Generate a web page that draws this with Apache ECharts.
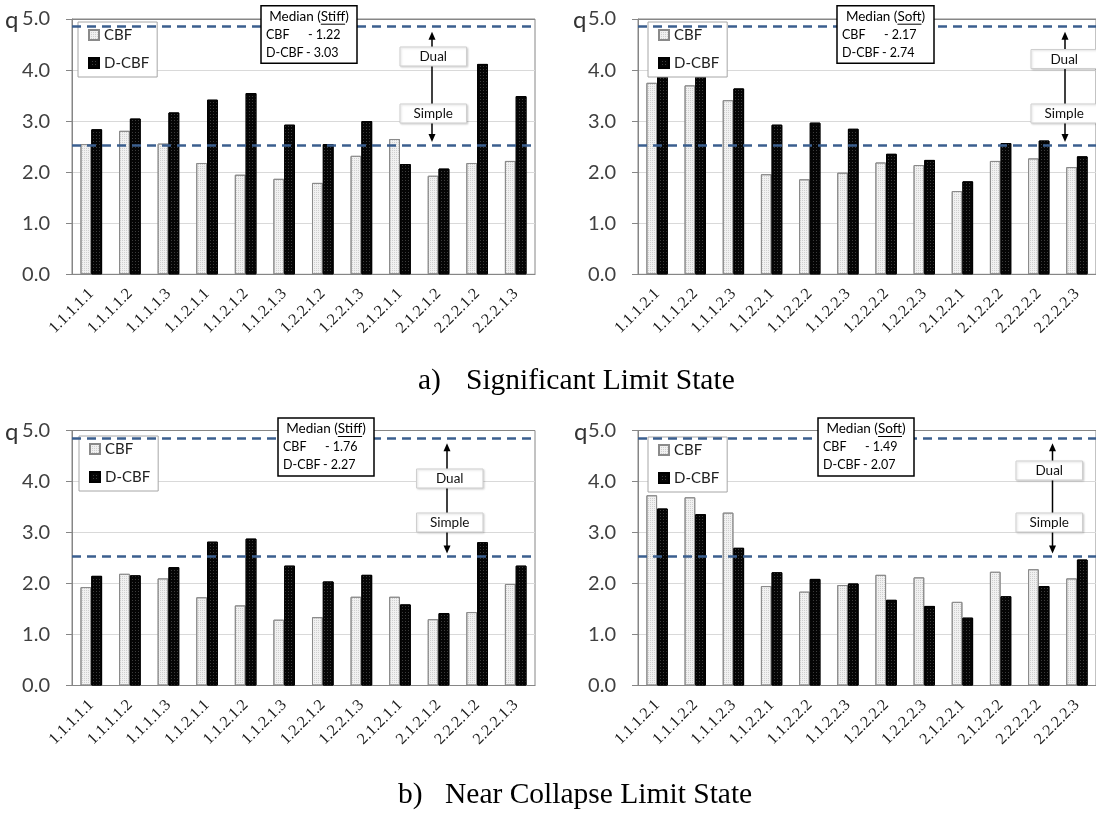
<!DOCTYPE html>
<html><head><meta charset="utf-8">
<script src="https://cdn.jsdelivr.net/npm/echarts@6/dist/echarts.min.js"></script>
<style>html,body{margin:0;padding:0;background:#fff}#c{width:1096px;height:813px}</style>
</head><body><div id="c"></div><script>
// ---------- data ----------
const catsStiff = ['1.1.1.1.1','1.1.1.1.2','1.1.1.1.3','1.1.2.1.1','1.1.2.1.2','1.1.2.1.3','1.2.2.1.2','1.2.2.1.3','2.1.2.1.1','2.1.2.1.2','2.2.2.1.2','2.2.2.1.3'];
const catsSoft  = ['1.1.1.2.1','1.1.1.2.2','1.1.1.2.3','1.1.2.2.1','1.1.2.2.2','1.1.2.2.3','1.2.2.2.2','1.2.2.2.3','2.1.2.2.1','2.1.2.2.2','2.2.2.2.2','2.2.2.2.3'];
const sigStiffCBF  = [2.55,2.81,2.56,2.18,1.95,1.87,1.79,2.32,2.65,1.93,2.18,2.22];
const sigStiffDCBF = [2.84,3.05,3.17,3.42,3.55,2.93,2.55,3.00,2.16,2.07,4.12,3.49];
const sigSoftCBF   = [3.75,3.70,3.41,1.96,1.86,1.99,2.19,2.14,1.63,2.22,2.27,2.10];
const sigSoftDCBF  = [4.05,4.00,3.64,2.93,2.97,2.85,2.36,2.24,1.82,2.57,2.62,2.31];
const ncStiffCBF   = [1.93,2.19,2.10,1.73,1.57,1.29,1.34,1.74,1.74,1.30,1.44,1.99];
const ncStiffDCBF  = [2.15,2.16,2.32,2.82,2.88,2.35,2.04,2.17,1.59,1.42,2.81,2.35];
const ncSoftCBF    = [3.73,3.69,3.39,1.95,1.84,1.97,2.17,2.12,1.64,2.23,2.28,2.10];
const ncSoftDCBF   = [3.47,3.36,2.70,2.22,2.09,2.00,1.68,1.56,1.33,1.75,1.95,2.47];
const limitLines = [2.53, 4.85];
const yMin = 0, yMax = 5, yStep = 1;
const seriesNames = ['CBF', 'D-CBF'];
const medianTitles = ['Stiff', 'Soft', 'Stiff', 'Soft'];
const medianCBF  = ['1.22', '2.17', '1.76', '1.49'];
const medianDCBF = ['3.03', '2.74', '2.27', '2.07'];
const systemLabels = ['Dual', 'Simple'];
const captions = [['a)', 'Significant Limit State'], ['b)', 'Near Collapse Limit State']];

// ---------- layout ----------
const panels = [
  {cats: catsStiff, cbf: sigStiffCBF, dcbf: sigStiffDCBF, grid: {left: 72,  top: 19,    width: 463, height: 255.3},
   legend: {left: 78, top: 22}, med: {x: 261, y: 5.7, w: 96, h: 57.6}, arrowX: 432, dualY: 47, simpleY: 104, boxX: 400, q: {x: 5, y: 25}},
  {cats: catsSoft, cbf: sigSoftCBF, dcbf: sigSoftDCBF, grid: {left: 638, top: 19,    width: 466, height: 255.3},
   legend: {left: 648, top: 22}, med: {x: 837, y: 5.7, w: 97, h: 57.6}, arrowX: 1065, dualY: 49.5, simpleY: 104, boxX: 1031, q: {x: 573, y: 25}},
  {cats: catsStiff, cbf: ncStiffCBF, dcbf: ncStiffDCBF, grid: {left: 72,  top: 430.5, width: 463, height: 255},
   legend: {left: 79, top: 436}, med: {x: 278, y: 418, w: 96, h: 58}, arrowX: 447, dualY: 469, simpleY: 513, boxX: 416.5, q: {x: 5, y: 437}},
  {cats: catsSoft, cbf: ncSoftCBF, dcbf: ncSoftDCBF, grid: {left: 638, top: 430.5, width: 466, height: 255},
   legend: {left: 648, top: 437}, med: {x: 818, y: 418, w: 96, h: 58}, arrowX: 1052.5, dualY: 461, simpleY: 513, boxX: 1016, q: {x: 574, y: 437}}
];

const AX = '#868686';
const ctx = document.createElement('canvas').getContext('2d');
function tw(t, font) { ctx.font = font; return ctx.measureText(t).width; }

const option = {
  animation: false,
  backgroundColor: '#fff',
  grid: [], xAxis: [], yAxis: [], series: [], legend: [], graphic: []
};

panels.forEach((p, i) => {
  option.grid.push(Object.assign({show: true, borderColor: AX, borderWidth: 1, backgroundColor: 'transparent', containLabel: false}, p.grid));
  option.xAxis.push({
    type: 'category', gridIndex: i, data: p.cats,
    axisLine: {lineStyle: {color: AX, width: 1}},
    axisTick: {length: 5, lineStyle: {color: AX}},
    axisLabel: {rotate: 45, interval: 0, fontFamily: 'Liberation Serif', fontSize: 16, color: '#1a1a1a', margin: 17}
  });
  option.yAxis.push({
    type: 'value', gridIndex: i, min: yMin, max: yMax, interval: yStep,
    axisLine: {show: true, lineStyle: {color: AX}},
    axisTick: {show: true, length: 6, lineStyle: {color: AX}},
    axisLabel: {formatter: v => v.toFixed(1), fontFamily: 'Lato', fontSize: 20, color: '#404040', margin: 22},
    splitLine: {show: true, lineStyle: {color: [AX, '#d9d9d9', '#d9d9d9', '#d9d9d9', '#d9d9d9', AX], width: 1}}
  });
  option.series.push({
    type: 'bar', name: seriesNames[0], xAxisIndex: i, yAxisIndex: i, data: p.cbf,
    barGap: '0%', barCategoryGap: '44%',
    itemStyle: {color: '#f1f1f1', borderColor: '#8a8a8a', borderWidth: 1,
      decal: {symbol: 'rect', symbolSize: 1, dashArrayX: [1, 1], dashArrayY: [1, 1], color: '#cfcfcf'}}
  });
  option.series.push({
    type: 'bar', name: seriesNames[1], xAxisIndex: i, yAxisIndex: i, data: p.dcbf,
    barGap: '0%', barCategoryGap: '44%',
    itemStyle: {color: '#050505', borderColor: '#000', borderWidth: 1,
      decal: {symbol: 'rect', symbolSize: 1, dashArrayX: [1, 2], dashArrayY: [1, 2], color: '#3c3c3c'}},
    markLine: {
      silent: true, symbol: 'none', label: {show: false},
      lineStyle: {type: [9, 6], color: '#3b5f8f', width: 2.5},
      data: limitLines.map(v => ({yAxis: v}))
    }
  });
  option.legend.push({
    data: seriesNames, orient: 'vertical', left: p.legend.left, top: p.legend.top,
    backgroundColor: '#fff', borderColor: '#a6a6a6', borderWidth: 1,
    padding: [4, 8, 5, 10], itemGap: 10, itemWidth: 10, itemHeight: 10, icon: 'rect',
    textStyle: {fontFamily: 'Lato', fontSize: 15, color: '#222', lineHeight: 18},
    selectedMode: false
  });

  // q label
  option.graphic.push({type: 'text', z: 100, left: p.q.x, top: p.q.y - 17,
    style: {text: 'q', font: '24px Lato', fill: '#333'}});

  // median box
  const m = p.med, f = '12.5px Lato';
  option.graphic.push({type: 'rect', z: 100, shape: {x: m.x, y: m.y, width: m.w, height: m.h},
    style: {fill: '#fff', stroke: '#000', lineWidth: 1.5}});
  const title = 'Median (' + medianTitles[i] + ')';
  const tf = '13.5px Lato';
  const cx = m.x + m.w / 2;
  option.graphic.push({type: 'text', z: 101, x: cx, y: m.y + 11,
    style: {text: title, font: tf, fill: '#000', textAlign: 'center', textVerticalAlign: 'middle'}});
  const tStart = cx - tw(title, tf) / 2 + tw('Median (', tf);
  option.graphic.push({type: 'line', z: 101, shape: {x1: tStart, y1: m.y + 18.5, x2: tStart + tw(medianTitles[i], tf), y2: m.y + 18.5},
    style: {stroke: '#000', lineWidth: 1}});
  option.graphic.push({type: 'text', z: 101, x: m.x + 5, y: m.y + 29,
    style: {text: 'CBF', font: f, fill: '#000', textVerticalAlign: 'middle'}});
  option.graphic.push({type: 'text', z: 101, x: m.x + 47, y: m.y + 29,
    style: {text: '- ' + medianCBF[i], font: f, fill: '#000', textVerticalAlign: 'middle'}});
  option.graphic.push({type: 'text', z: 101, x: m.x + 5, y: m.y + 47,
    style: {text: 'D-CBF', font: f, fill: '#000', textVerticalAlign: 'middle'}});
  option.graphic.push({type: 'text', z: 101, x: m.x + 45, y: m.y + 47,
    style: {text: '- ' + medianDCBF[i], font: f, fill: '#000', textVerticalAlign: 'middle'}});
});

const chart = echarts.init(document.getElementById('c'), null, {renderer: 'canvas'});
chart.setOption(option);

// arrows and system boxes, positioned from the limit lines
const extra = [];
panels.forEach((p, i) => {
  const yHi = chart.convertToPixel({yAxisIndex: i}, limitLines[1]);
  const yLo = chart.convertToPixel({yAxisIndex: i}, limitLines[0]);
  const x = p.arrowX, t = yHi + 5, b = yLo - 3;
  extra.push({type: 'line', z: 98, shape: {x1: x, y1: t + 6, x2: x, y2: b - 6}, style: {stroke: '#000', lineWidth: 1.5}});
  extra.push({type: 'polygon', z: 98, shape: {points: [[x, t], [x - 3.5, t + 8], [x + 3.5, t + 8]]}, style: {fill: '#000'}});
  extra.push({type: 'polygon', z: 98, shape: {points: [[x, b], [x - 3.5, b - 8], [x + 3.5, b - 8]]}, style: {fill: '#000'}});
  [[systemLabels[0], p.dualY], [systemLabels[1], p.simpleY]].forEach(([lab, y]) => {
    extra.push({type: 'rect', z: 99, shape: {x: p.boxX, y: y, width: 66.5, height: 19},
      style: {fill: '#fff', stroke: '#cfcfcf', lineWidth: 1, shadowBlur: 2, shadowColor: 'rgba(0,0,0,0.15)', shadowOffsetX: 1, shadowOffsetY: 1}});
    extra.push({type: 'text', z: 100, x: p.boxX + 33.25, y: y + 10,
      style: {text: lab, font: '13.5px Lato', fill: '#111', textAlign: 'center', textVerticalAlign: 'middle'}});
  });
});
// captions
[[418, 466, 381], [398, 445, 795]].forEach((pos, k) => {
  extra.push({type: 'text', z: 100, x: pos[0], y: pos[2],
    style: {text: captions[k][0], font: '29.5px "Liberation Serif"', fill: '#000', textVerticalAlign: 'middle'}});
  extra.push({type: 'text', z: 100, x: pos[1], y: pos[2],
    style: {text: captions[k][1], font: '29.5px "Liberation Serif"', fill: '#000', textVerticalAlign: 'middle'}});
});
chart.setOption({graphic: option.graphic.concat(extra)});
</script></body></html>
